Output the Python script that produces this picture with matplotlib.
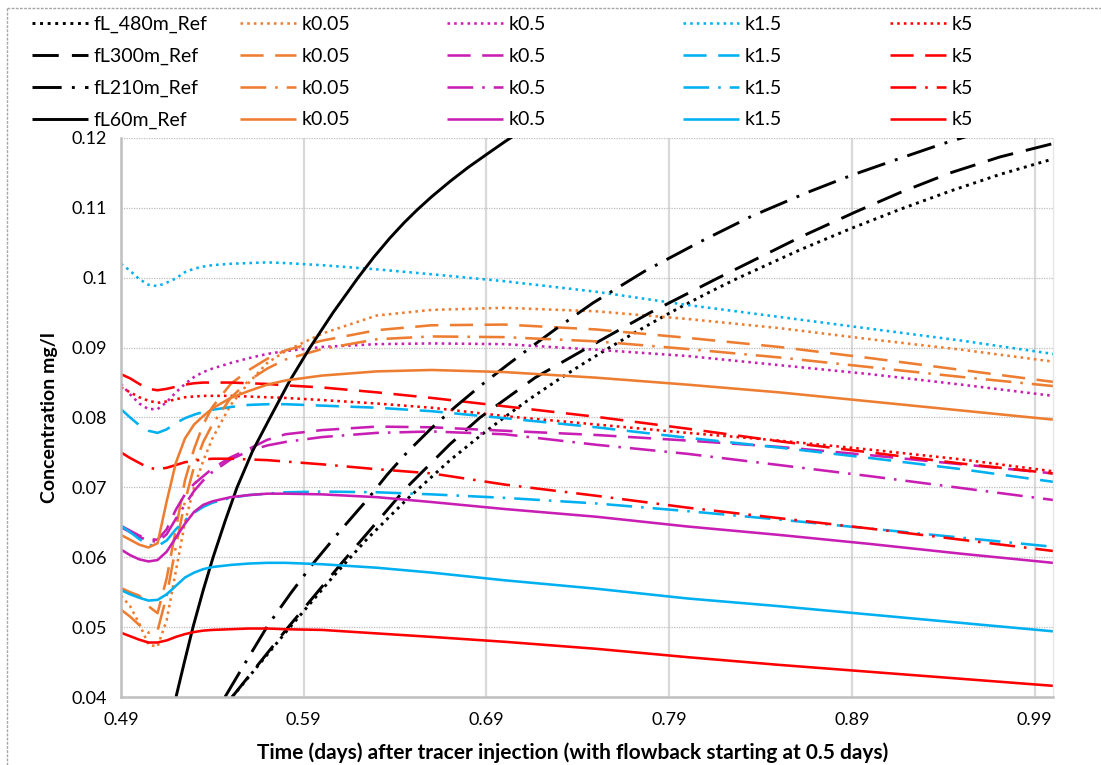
import matplotlib
matplotlib.use('Agg')
import matplotlib.pyplot as plt
from matplotlib.lines import Line2D

# ---------------- data ----------------
T = [0.49, 0.495, 0.50, 0.505, 0.51, 0.515, 0.52, 0.525, 0.53, 0.535, 0.54, 0.55,
     0.56, 0.57, 0.58, 0.60, 0.63, 0.66, 0.70, 0.75, 0.80, 0.85, 0.90, 0.95, 1.00]

# k0.05 (orange)
k005_dot  = [0.0545, 0.0530, 0.0505, 0.0475, 0.0472, 0.0510, 0.0580, 0.0650, 0.0700, 0.0738, 0.0770, 0.0818,
             0.0850, 0.0878, 0.0895, 0.0920, 0.0946, 0.0954, 0.0957, 0.0952, 0.0941, 0.0928, 0.0912, 0.0897, 0.0880]
k005_dash = [0.0556, 0.0550, 0.0545, 0.0530, 0.0520, 0.0570, 0.0640, 0.0710, 0.0755, 0.0790, 0.0815, 0.0848,
             0.0868, 0.0884, 0.0896, 0.0910, 0.0925, 0.0932, 0.0933, 0.0926, 0.0914, 0.0901, 0.0885, 0.0868, 0.0851]
k005_dd   = [0.0525, 0.0515, 0.0503, 0.0492, 0.0495, 0.0545, 0.0615, 0.0680, 0.0730, 0.0765, 0.0790, 0.0828,
             0.0853, 0.0870, 0.0883, 0.0898, 0.0912, 0.0916, 0.0915, 0.0909, 0.0898, 0.0886, 0.0872, 0.0858, 0.0845]
k005_sol  = [0.0632, 0.0625, 0.0618, 0.0614, 0.0620, 0.0680, 0.0735, 0.0770, 0.0790, 0.0802, 0.0813, 0.0828,
             0.0838, 0.0847, 0.0853, 0.0860, 0.0866, 0.0868, 0.0865, 0.0857, 0.0847, 0.0836, 0.0823, 0.0810, 0.0797]

# k0.5 (magenta)
k05_dot  = [0.0848, 0.0833, 0.0820, 0.0812, 0.0812, 0.0822, 0.0836, 0.0848, 0.0858, 0.0865, 0.0870, 0.0878,
            0.0885, 0.0891, 0.0895, 0.0901, 0.0905, 0.0906, 0.0905, 0.0897, 0.0888, 0.0875, 0.0862, 0.0847, 0.0831]
k05_dash = [0.0645, 0.0638, 0.0631, 0.0626, 0.0625, 0.0640, 0.0668, 0.0690, 0.0705, 0.0716, 0.0727, 0.0743,
            0.0755, 0.0768, 0.0776, 0.0782, 0.0787, 0.0786, 0.0781, 0.0775, 0.0767, 0.0758, 0.0746, 0.0733, 0.0720]
k05_dd   = [0.0643, 0.0636, 0.0629, 0.0624, 0.0622, 0.0633, 0.0655, 0.0675, 0.0695, 0.0710, 0.0722, 0.0740,
            0.0752, 0.0760, 0.0765, 0.0772, 0.0778, 0.0780, 0.0776, 0.0761, 0.0748, 0.0732, 0.0716, 0.0699, 0.0682]
k05_sol  = [0.0611, 0.0603, 0.0597, 0.0594, 0.0596, 0.0608, 0.0628, 0.0648, 0.0665, 0.0675, 0.0680, 0.0686,
            0.0689, 0.0691, 0.0691, 0.0690, 0.0686, 0.0679, 0.0669, 0.0658, 0.0644, 0.0632, 0.0619, 0.0605, 0.0592]

# k1.5 (light blue)
k15_dot  = [0.1020, 0.1010, 0.0998, 0.0990, 0.0988, 0.0993, 0.0999, 0.1008, 0.1013, 0.1016, 0.1018, 0.1020,
            0.1021, 0.1022, 0.1021, 0.1018, 0.1012, 0.1005, 0.0995, 0.0980, 0.0961, 0.0944, 0.0927, 0.0910, 0.0891]
k15_dash = [0.0812, 0.0800, 0.0789, 0.0781, 0.0778, 0.0783, 0.0792, 0.0799, 0.0804, 0.0808, 0.0811, 0.0815,
            0.0818, 0.0819, 0.0819, 0.0817, 0.0814, 0.0809, 0.0799, 0.0786, 0.0771, 0.0757, 0.0742, 0.0726, 0.0708]
k15_dd   = [0.0645, 0.0636, 0.0626, 0.0618, 0.0616, 0.0624, 0.0640, 0.0653, 0.0664, 0.0672, 0.0678, 0.0685,
            0.0689, 0.0691, 0.0693, 0.0694, 0.0693, 0.0690, 0.0685, 0.0677, 0.0666, 0.0654, 0.0641, 0.0628, 0.0615]
k15_sol  = [0.0553, 0.0547, 0.0542, 0.0538, 0.0539, 0.0547, 0.0559, 0.0571, 0.0578, 0.0583, 0.0586, 0.0589,
            0.0591, 0.0592, 0.0592, 0.0590, 0.0585, 0.0578, 0.0567, 0.0555, 0.0541, 0.0530, 0.0518, 0.0506, 0.0494]

# k5 (red)
k5_dot  = [0.0843, 0.0836, 0.0829, 0.0824, 0.0821, 0.0823, 0.0826, 0.0829, 0.0830, 0.0831, 0.0831, 0.0831,
           0.0830, 0.0829, 0.0828, 0.0825, 0.0820, 0.0814, 0.0802, 0.0790, 0.0778, 0.0767, 0.0754, 0.0740, 0.0723]
k5_dash = [0.0862, 0.0856, 0.0848, 0.0841, 0.0839, 0.0841, 0.0844, 0.0847, 0.0849, 0.0850, 0.0850, 0.0850,
           0.0849, 0.0848, 0.0846, 0.0843, 0.0836, 0.0828, 0.0816, 0.0801, 0.0784, 0.0766, 0.0750, 0.0734, 0.0720]
k5_dd   = [0.0750, 0.0742, 0.0735, 0.0728, 0.0726, 0.0728, 0.0732, 0.0736, 0.0738, 0.0740, 0.0741, 0.0741,
           0.0740, 0.0739, 0.0737, 0.0733, 0.0726, 0.0720, 0.0704, 0.0688, 0.0671, 0.0656, 0.0641, 0.0625, 0.0609]
k5_sol  = [0.0492, 0.0487, 0.0482, 0.0478, 0.0478, 0.0481, 0.0486, 0.0490, 0.0493, 0.0495, 0.0496, 0.0497,
           0.0498, 0.0498, 0.0497, 0.0496, 0.0491, 0.0486, 0.0479, 0.0469, 0.0457, 0.0446, 0.0436, 0.0426, 0.0416]

# Reference curves (black)
ref480_t = [0.5508, 0.5809, 0.606, 0.6246, 0.6465, 0.6701, 0.6876, 0.7002, 0.7139, 0.7292, 0.7429, 0.756,
            0.7702, 0.785, 0.7976, 0.814, 0.8272, 0.8616, 0.889, 0.9164, 0.9437, 0.9711, 1.0]
ref480_c = [0.0400, 0.0495, 0.0572, 0.0626, 0.0683, 0.0739, 0.0776, 0.0801, 0.0827, 0.0854, 0.0877, 0.0898,
            0.0920, 0.0942, 0.0960, 0.0982, 0.0999, 0.1040, 0.1070, 0.1098, 0.1124, 0.1148, 0.1170]
ref300_t = [0.5508, 0.5809, 0.6115, 0.646, 0.6701, 0.6865, 0.7166, 0.7467, 0.7795, 0.8162, 0.8616, 0.8918,
            0.9164, 0.9437, 0.9711, 1.0]
ref300_c = [0.0400, 0.0498, 0.0594, 0.0699, 0.0762, 0.0800, 0.0857, 0.0902, 0.0950, 0.0999, 0.1058, 0.1094,
            0.1122, 0.1150, 0.1173, 0.1192]
ref210_t = [0.5469, 0.5587, 0.5705, 0.583, 0.5951, 0.61, 0.6246, 0.6356, 0.6465, 0.66, 0.6728, 0.687,
            0.7013, 0.715, 0.7281, 0.7483, 0.7763, 0.8058, 0.835, 0.8655, 0.8901, 0.9164, 0.9399, 0.9563]
ref210_c = [0.0400, 0.0452, 0.0503, 0.0549, 0.0591, 0.0638, 0.0682, 0.0718, 0.0750, 0.0785, 0.0815, 0.0846,
            0.0875, 0.0902, 0.0927, 0.0964, 0.1009, 0.1050, 0.1088, 0.1122, 0.1147, 0.1171, 0.1192, 0.1205]
ref60_t = [0.5201, 0.5245, 0.5294, 0.5350, 0.5404, 0.5470, 0.5535, 0.5620, 0.5716, 0.5820, 0.5934, 0.6060,
           0.6197, 0.6285, 0.6372, 0.6450, 0.6520, 0.6600, 0.6701, 0.6800, 0.6903, 0.7002, 0.7084]
ref60_c = [0.0400, 0.0448, 0.0500, 0.0553, 0.0600, 0.0652, 0.0700, 0.0752, 0.0800, 0.0851, 0.0900, 0.0950,
           0.1000, 0.1030, 0.1057, 0.1079, 0.1097, 0.1116, 0.1138, 0.1158, 0.1177, 0.1195, 0.1209]

y_ticks = [0.04, 0.05, 0.06, 0.07, 0.08, 0.09, 0.10, 0.11, 0.12]
y_labels = ['0.04', '0.05', '0.06', '0.07', '0.08', '0.09', '0.1', '0.11', '0.12']
x_ticks = [0.49, 0.59, 0.69, 0.79, 0.89, 0.99]
x_labels = ['0.49', '0.59', '0.69', '0.79', '0.89', '0.99']

ref_labels = ['fL_480m_Ref', 'fL300m_Ref', 'fL210m_Ref', 'fL60m_Ref']
k_labels = ['k0.05', 'k0.5', 'k1.5', 'k5']

# ---------------- style ----------------
FONT = 'Lato'
plt.rcParams['font.family'] = [FONT, 'DejaVu Sans']

C_BLACK = '#000000'
C_ORANGE = '#ED7D31'
C_MAG = '#C81EB4'
C_BLUE = '#00B0F0'
C_RED = '#FF0000'

LS_DOT = (0, (1, 1.6))
LS_DASH = (0, (9, 4.5))
LS_DD = (0, (10, 3.5, 1, 3.5))
LS_SOL = '-'
styles = [LS_DOT, LS_DASH, LS_DD, LS_SOL]

LW_REF = 2.1
LW = 1.85

fig = plt.figure(figsize=(11.01, 7.65), dpi=100)
W, H = 1101, 765
ax = fig.add_axes([121 / W, 68 / H, 932 / W, 559 / H])

groups = [
    (C_ORANGE, [k005_dot, k005_dash, k005_dd, k005_sol]),
    (C_MAG, [k05_dot, k05_dash, k05_dd, k05_sol]),
    (C_BLUE, [k15_dot, k15_dash, k15_dd, k15_sol]),
    (C_RED, [k5_dot, k5_dash, k5_dd, k5_sol]),
]
refs = [(ref480_t, ref480_c), (ref300_t, ref300_c), (ref210_t, ref210_c), (ref60_t, ref60_c)]

for i in range(4):
    rt, rc = refs[i]
    ax.plot(rt, rc, color=C_BLACK, lw=LW_REF, linestyle=styles[i], solid_capstyle='butt')
    for color, series in groups:
        ax.plot(T, series[i], color=color, lw=LW, linestyle=styles[i], solid_capstyle='butt')

ax.set_xlim(0.49, 1.0)
ax.set_ylim(0.04, 0.12)
ax.set_xticks(x_ticks)
ax.set_xticklabels(x_labels)
ax.set_yticks(y_ticks)
ax.set_yticklabels(y_labels)
ax.tick_params(axis='both', length=0, labelsize=13, colors='#000000')
ax.tick_params(axis='x', pad=11)
ax.tick_params(axis='y', pad=10)

ax.set_axisbelow(True)
ax.yaxis.grid(True, color='#bfbfbf', lw=0.9, linestyle=(0, (1, 1)))
ax.xaxis.grid(True, color='#d9d9d9', lw=1.6, linestyle='-')
ax.spines['top'].set_visible(False)
ax.spines['right'].set_color('#e6e6e6')
ax.spines['right'].set_linewidth(1.0)
for s in ['left', 'bottom']:
    ax.spines[s].set_color('#bfbfbf')
    ax.spines[s].set_linewidth(1.8)

ax.set_xlabel('Time (days) after tracer injection (with flowback starting at 0.5 days)',
              fontsize=15, fontweight='bold', labelpad=3)
ax.xaxis.set_label_coords((573 - 121) / 932, -0.082)
ax.set_ylabel('Concentration mg/l', fontsize=14, fontweight='bold', labelpad=10)

# ---------------- legend (5 columns) ----------------
col_x = [32, 240, 447, 683, 890]
col_colors = [C_BLACK, C_ORANGE, C_MAG, C_BLUE, C_RED]
col_labels = [ref_labels] + [[k] * 4 for k in k_labels]
for ci in range(5):
    lw = LW_REF if ci == 0 else LW
    handles = [Line2D([], [], color=col_colors[ci], lw=lw, linestyle=styles[i], solid_capstyle='butt')
               for i in range(4)]
    fig.legend(handles, col_labels[ci], loc='upper left',
               bbox_to_anchor=(col_x[ci] / W, 1 - 16 / H), frameon=False,
               fontsize=14, handlelength=2.9, handletextpad=0.25,
               labelspacing=0.76, borderpad=0, borderaxespad=0)

# chart-area border (dashed gray, top and left visible)
fig.add_artist(Line2D([7 / W, 1.0], [1 - 8 / H, 1 - 8 / H], color='#a6a6a6', lw=1.0,
                      linestyle=(0, (2, 1)), transform=fig.transFigure))
fig.add_artist(Line2D([7 / W, 7 / W], [0.0, 1 - 8 / H], color='#a6a6a6', lw=1.0,
                      linestyle=(0, (2, 1)), transform=fig.transFigure))

fig.savefig('out.png', dpi=100)
